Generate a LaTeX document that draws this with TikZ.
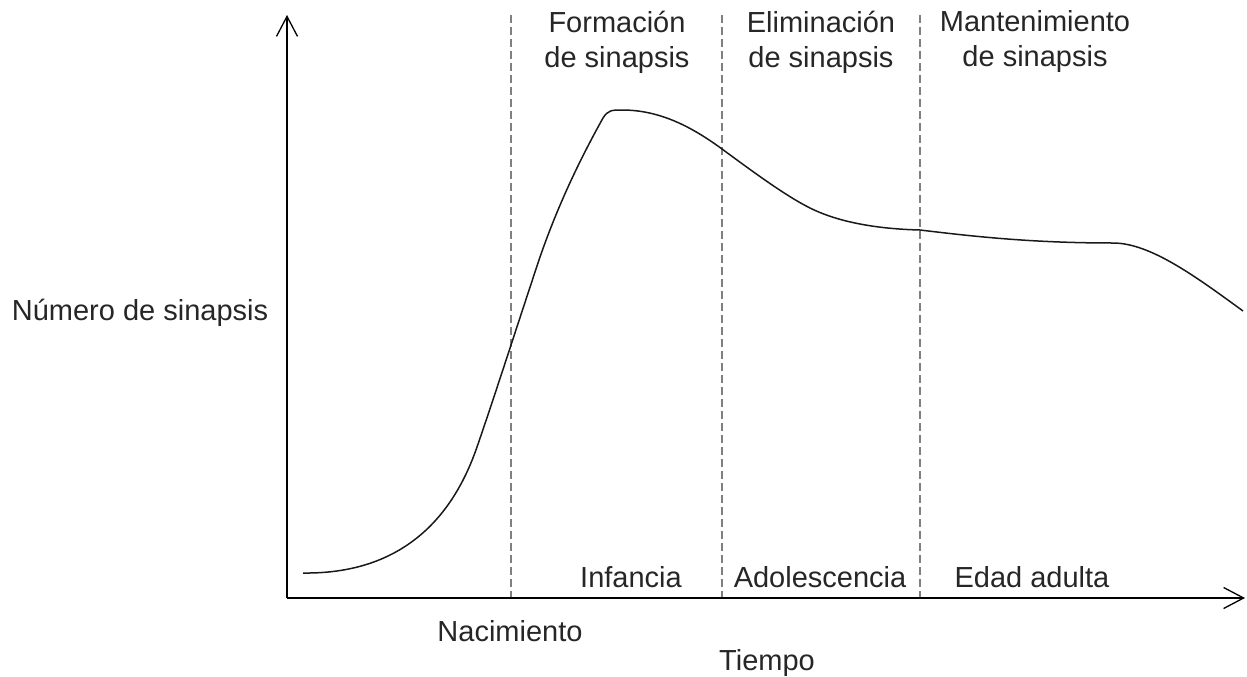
\documentclass[tikz,border=0pt]{standalone}
\usepackage{fontspec}
\setmainfont{Liberation Sans}
\usetikzlibrary{arrows.meta}
\begin{document}
\begin{tikzpicture}[x=1pt,y=-1pt,
  lbl/.style={inner sep=0pt,align=center,font=\fontsize{29}{35}\selectfont,text=black!85},
  axis/.style={line width=1.3pt,-{Straight Barb[length=20pt,width=21pt,line width=1.3pt]}},
  divider/.style={line width=1.2pt,draw=black!50,dash pattern=on 8pt off 4pt},
  curve/.style={line width=1.5pt,black!90}]
\useasboundingbox (0,0) rectangle (1247,677);
% axes
\coordinate (O) at (287,598);
\coordinate (ytop) at (287,15);
\coordinate (xend) at (1245,598);
\draw[axis] (O) -- (ytop);
\draw[axis] (O) -- (xend);
% dividers
\foreach \n/\x in {d1/511,d2/722,d3/920}{
  \coordinate (\n t) at (\x,15);
  \coordinate (\n b) at (\x,597);
  \draw[divider] (\n t) -- (\n b);
}
% curve
\draw[curve] (303,573)
  .. controls (380,574) and (445,540) .. (477,447)
  .. controls (494,398) and (519,320) .. (540,257)
  .. controls (560,199.5) and (583,154) .. (603,118)
  .. controls (608,110) and (612,110) .. (622,110)
  .. controls (660,110) and (692,127) .. (722,149)
  .. controls (752,171) and (785,195.5) .. (810,208)
  .. controls (840,223) and (880,229) .. (920,230)
  .. controls (970,236) and (1030,243) .. (1113,243)
  .. controls (1150,243) and (1195,276) .. (1243,311);
% labels
\node[lbl] (form) at (617,42) {Formación\\de sinapsis};
\node[lbl] (elim) at (821,42) {Eliminación\\de sinapsis};
\node[lbl] (mant) at (1035,42) {Mantenimiento\\de sinapsis};
\node[lbl] (inf) at (631,577) {Infancia};
\node[lbl] (ado) at (820,577) {Adolescencia};
\node[lbl] (adu) at (1032,577) {Edad adulta};
\node[lbl] (nac) at (510,631) {Nacimiento};
\node[lbl] (tie) at (767,663) {Tiempo};
\node[lbl] (num) at (140,313) {Número de sinapsis};
\end{tikzpicture}
\end{document}
